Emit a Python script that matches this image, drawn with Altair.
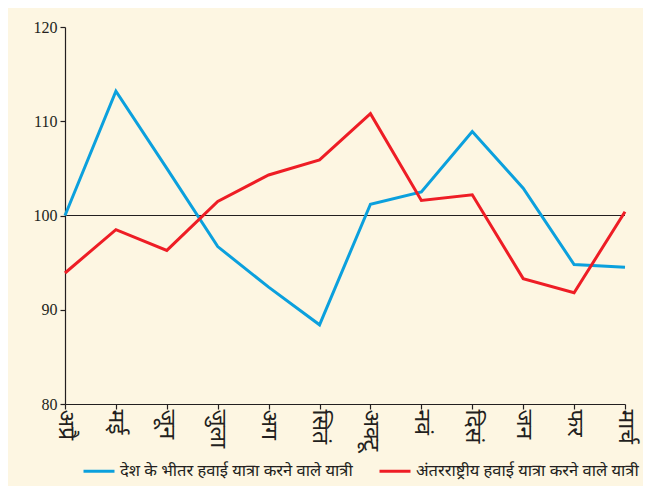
import altair as alt
import pandas as pd

months = ["अप्रै", "मई", "जून", "जुला", "अग", "सितं", "अक्टू", "नवं", "दिसं", "जन", "फर", "मार्च"]
domestic = [100.0, 113.2, 105.0, 96.7, 92.4, 88.4, 101.2, 102.5, 108.9, 102.9, 94.8, 94.5]
international = [93.9, 98.5, 96.3, 101.5, 104.3, 105.9, 110.8, 101.6, 102.2, 93.3, 91.8, 100.4]
series_names = [
    "देश के भीतर हवाई यात्रा करने वाले यात्री",
    "अंतरराष्ट्रीय हवाई यात्रा करने वाले यात्री",
]
series_colors = ["#0ba0dd", "#ee1d25"]
y_ticks = [80, 90, 100, 110, 120]
baseline = [100]

rows = []
for name, vals in zip(series_names, [domestic, international]):
    for m, v in zip(months, vals):
        rows.append({"month": m, "value": v, "series": name})
df = pd.DataFrame(rows)

deva = "Noto Sans Devanagari, Noto Sans, sans-serif"
ink = "#231f20"

x_enc = alt.X(
    "month:N",
    sort=months,
    scale=alt.Scale(type="point", padding=0),
    axis=alt.Axis(
        title=None,
        labelAngle=90,
        labelAlign="left",
        labelBaseline="middle",
        labelFont=deva,
        labelFontSize=23,
        labelPadding=0,
        labelColor=ink,
    ),
)
y_enc = alt.Y(
    "value:Q",
    scale=alt.Scale(domain=[80, 120], nice=False, zero=False),
    axis=alt.Axis(
        title=None,
        values=y_ticks,
        labelFont="Liberation Serif",
        labelFontSize=16,
        labelColor=ink,
        labelPadding=3,
    ),
)

rule = alt.Chart(pd.DataFrame({"y": baseline})).mark_rule(
    color=ink, strokeWidth=1.2
).encode(y=alt.Y("y:Q", scale=alt.Scale(domain=[80, 120], nice=False, zero=False)))

lines = alt.Chart(df).mark_line(strokeWidth=3).encode(
    x=x_enc,
    y=y_enc,
    color=alt.Color(
        "series:N",
        scale=alt.Scale(domain=series_names, range=series_colors),
        legend=alt.Legend(
            title=None,
            orient="none",
            legendX=17,
            legendY=427,
            direction="horizontal",
            symbolType="stroke",
            symbolSize=961,
            symbolStrokeWidth=3,
            labelFont=deva,
            labelFontSize=16.5,
            labelColor=ink,
            labelLimit=400,
            columnPadding=20,
            padding=0,
        ),
    ),
)

chart = (
    alt.layer(rule, lines)
    .properties(
        width=560,
        height=377,
        autosize="none",
        padding={"left": 57, "top": 19, "right": 18, "bottom": 82},
        background="#fdf6e2",
    )
    .configure_view(stroke=None)
    .configure_axis(
        grid=False,
        domainColor=ink,
        domainWidth=1.2,
        tickColor=ink,
        tickSize=5,
        tickWidth=1.2,
    )
)

chart.save("out.html", embed_options={"renderer": "svg", "actions": False})
